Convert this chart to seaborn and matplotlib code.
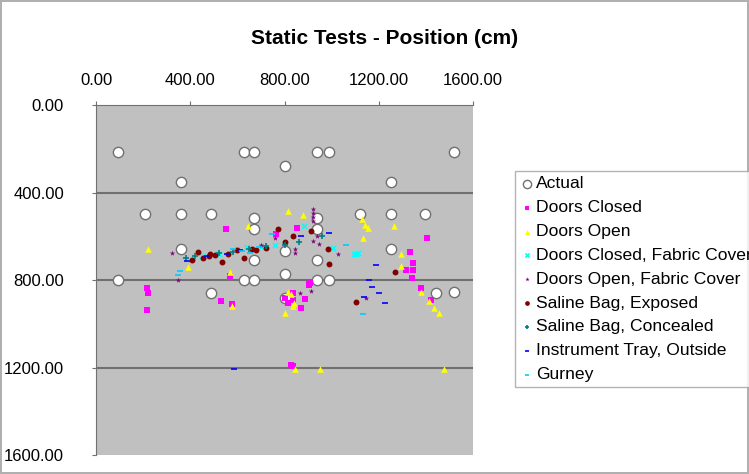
import numpy as np
import pandas as pd
import matplotlib
matplotlib.use('Agg')
import matplotlib.pyplot as plt
import seaborn as sns
from matplotlib.ticker import FormatStrFormatter

# actual positions (white circles)
actual_x = [95, 630, 672, 936, 987, 1519, 804, 362, 1251, 209, 362, 489, 1119, 1251, 1396,
            672, 936, 672, 936, 362, 1251, 804, 672, 936, 804, 94, 630, 672, 936, 987,
            489, 1443, 1519, 800]
actual_y = [216, 216, 216, 216, 216, 216, 280, 354, 354, 497, 497, 497, 497, 497, 497,
            515, 515, 566, 566, 658, 658, 667, 708, 708, 772, 800, 800, 800, 800, 800,
            860, 860, 855, 880]

closed_x = [553, 855, 1404, 1332, 1345, 1315, 1345, 1340, 570, 217, 221, 217, 532, 579, 804,
            834, 813, 838, 868, 885, 906, 910, 1379, 1421, 838, 766, 906, 828]
closed_y = [566, 561, 607, 671, 722, 754, 754, 791, 782, 836, 860, 938, 897, 911, 883,
            860, 906, 892, 929, 887, 823, 814, 838, 892, 1195, 589, 818, 1188]

open_x = [221, 391, 570, 647, 813, 877, 1128, 1140, 1153, 1132, 1264, 1294, 1294, 813, 834,
          804, 826, 840, 579, 1379, 1413, 1434, 1455, 843, 949, 1477]
open_y = [658, 740, 763, 552, 483, 501, 520, 547, 561, 607, 552, 680, 736, 855, 920,
          952, 864, 905, 920, 855, 897, 929, 952, 1209, 1209, 1205]

closed_fab_x = [1094, 1111, 1102, 1004, 881, 600, 640, 700, 760, 450, 520]
closed_fab_y = [680, 676, 683, 653, 552, 658, 650, 650, 640, 690, 680]

open_fab_x = [919, 919, 919, 923, 936, 923, 945, 843, 843, 1026, 323, 349, 864, 911, 1145, 760, 700]
open_fab_y = [474, 495, 510, 529, 598, 621, 635, 658, 676, 680, 676, 800, 860, 851, 883, 610, 640]

saline_exp_x = [409, 434, 455, 481, 506, 536, 562, 600, 626, 681, 723, 774, 838, 804, 911,
                983, 987, 1268, 1102, 664, 485]
saline_exp_y = [708, 671, 699, 690, 685, 717, 680, 662, 699, 662, 653, 566, 598, 625, 575,
                658, 726, 763, 901, 658, 680]

saline_con_x = [380, 420, 520, 580, 650, 720, 800, 860, 960]
saline_con_y = [700, 690, 675, 670, 660, 645, 640, 625, 600]

tray_x = [987, 1187, 1157, 1170, 1226, 587, 868, 557, 387, 1136, 1200, 470, 610]
tray_y = [584, 731, 800, 832, 906, 1205, 598, 680, 713, 878, 860, 690, 665]

gurney_x = [349, 1132, 357, 583, 620, 655, 749, 690, 1060]
gurney_y = [777, 957, 760, 658, 668, 676, 589, 650, 640]

series = [
    ('Doors Closed', closed_x, closed_y, '#FF00FF', 's', 18),
    ('Doors Open', open_x, open_y, '#FFFF00', '^', 22),
    ('Doors Closed, Fabric Cover', closed_fab_x, closed_fab_y, '#00FFFF', 'x', 14),
    ('Doors Open, Fabric Cover', open_fab_x, open_fab_y, '#800080', '*', 16),
    ('Saline Bag, Exposed', saline_exp_x, saline_exp_y, '#800000', 'o', 18),
    ('Saline Bag, Concealed', saline_con_x, saline_con_y, '#008080', '+', 14),
    ('Instrument Tray, Outside', tray_x, tray_y, '#0000FF', '_', 16),
    ('Gurney', gurney_x, gurney_y, '#00CCFF', '_', 16),
]

plt.rcParams['font.family'] = ['Liberation Sans', 'DejaVu Sans']

fig = plt.figure(figsize=(7.49, 4.74), dpi=100)
fig.patch.set_edgecolor('#B0B0B0')
fig.patch.set_linewidth(1.5)
ax = fig.add_axes([96 / 749, 1 - 455 / 474, 377 / 749, 350 / 474])
ax.set_facecolor('#C0C0C0')

sns.scatterplot(x=actual_x, y=actual_y, ax=ax, color='white', edgecolor='#707070',
                linewidth=1, s=55, marker='o', label='Actual', zorder=3)
for name, xs, ys, col, mk, sz in series:
    if mk in ('x', '+', '_'):
        sns.scatterplot(x=xs, y=ys, ax=ax, color=col, marker=mk, s=sz, linewidth=1.2,
                        label=name, zorder=4)
    else:
        sns.scatterplot(x=xs, y=ys, ax=ax, color=col, marker=mk, s=sz, linewidth=0,
                        label=name, zorder=4)

ax.set_xlim(0, 1600)
ax.set_ylim(1600, 0)
ax.set_xticks([0, 400, 800, 1200, 1600])
ax.set_yticks([0, 400, 800, 1200, 1600])
ax.xaxis.set_major_formatter(FormatStrFormatter('%.2f'))
ax.yaxis.set_major_formatter(FormatStrFormatter('%.2f'))
ax.xaxis.tick_top()
ax.tick_params(axis='x', pad=9, labelsize=12, length=3, color='#707070')
ax.tick_params(axis='y', pad=20, labelsize=12, length=3, color='#707070')
for y in [400, 800, 1200]:
    ax.axhline(y, color='#707070', lw=1.5, zorder=2)
ax.spines['right'].set_visible(False)
ax.spines['bottom'].set_visible(False)
ax.spines['left'].set_color('#707070')
ax.spines['top'].set_color('#707070')
ax.set_xlabel('')
ax.set_ylabel('')

fig.text(385 / 749, 1 - 38 / 474, 'Static Tests - Position (cm)', ha='center', va='center',
         fontsize=15, fontweight='bold')

handles, labels = ax.get_legend_handles_labels()
ax.get_legend().remove()
leg = fig.legend(handles, labels, loc='upper left', bbox_to_anchor=(515 / 749, 1 - 171 / 474),
                 borderaxespad=0, fontsize=12.6, frameon=True, fancybox=False,
                 edgecolor='#A0A0A0', labelspacing=0.49, handletextpad=0.1,
                 handlelength=0.8, borderpad=0.3, markerscale=0.8)
leg.get_frame().set_linewidth(1)

fig.savefig('out.png', dpi=100)
